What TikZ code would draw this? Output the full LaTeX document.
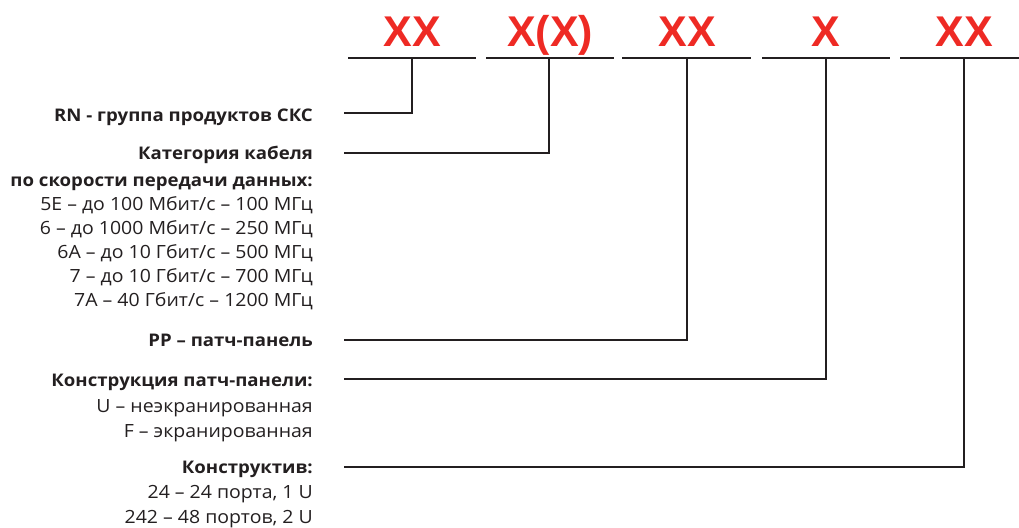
\documentclass[tikz,border=0pt]{standalone}
\usepackage{fontspec}
\setmainfont[FakeStretch=1.07]{Open Sans}
\newfontfamily\codefont{Liberation Sans}
\definecolor{codered}{HTML}{EE2A24}
\definecolor{linegray}{HTML}{231F20}
\definecolor{txt}{HTML}{231F20}
\begin{document}
\begin{tikzpicture}[x=1pt,y=-1pt,
  lbl/.style={anchor=base east,inner sep=0pt,text=txt,font=\fontsize{18.2}{22}\selectfont},
  lblb/.style={lbl,font=\fontsize{17.4}{22}\selectfont\bfseries},
  code/.style={anchor=base,inner sep=0pt,text=codered,font=\codefont\fontsize{43}{43}\selectfont\bfseries},
  rule/.style={draw=linegray,line width=2.4pt},
  conn/.style={draw=linegray,line width=2.4pt}]
\useasboundingbox (0,0) rectangle (1019,527);
% codes
\node[code] (c1) at (412,47) {XX};
\node[code] (c2) at (550,47) {X(X)};
\node[code] (c3) at (687,47) {XX};
\node[code] (c4) at (826,47) {X};
\node[code] (c5) at (964,47) {XX};
% top rules
\coordinate (r1a) at (348,58); \coordinate (r1b) at (476,58);
\coordinate (r2a) at (486,58); \coordinate (r2b) at (614,58);
\coordinate (r3a) at (622,58); \coordinate (r3b) at (751,58);
\coordinate (r4a) at (762,58); \coordinate (r4b) at (890,58);
\coordinate (r5a) at (900,58); \coordinate (r5b) at (1019,58);
\draw[rule] (r1a) -- (r1b);
\draw[rule] (r2a) -- (r2b);
\draw[rule] (r3a) -- (r3b);
\draw[rule] (r4a) -- (r4b);
\draw[rule] (r5a) -- (r5b);
\coordinate (t1) at (412,58);
\coordinate (t2) at (549,58);
\coordinate (t3) at (687,58);
\coordinate (t4) at (826,58);
\coordinate (t5) at (964,58);
% connector starts
\coordinate (s1) at (344,113);
\coordinate (s2) at (344,153);
\coordinate (s3) at (344,340);
\coordinate (s4) at (344,379);
\coordinate (s5) at (344,467);
\draw[conn] (s1) -| (t1);
\draw[conn] (s2) -| (t2);
\draw[conn] (s3) -| (t3);
\draw[conn] (s4) -| (t4);
\draw[conn] (s5) -| (t5);
% labels
\node[lblb] (a1) at (313,121) {RN - группа продуктов СКС};
\node[lblb] (a2) at (313,159) {Категория кабеля};
\node[lblb] (a3) at (313,186) {по скорости передачи данных:};
\node[lbl] (a4) at (313,210) {5E – до 100 Мбит/с – 100 МГц};
\node[lbl] (a5) at (313,234) {6 – до 1000 Мбит/с – 250 МГц};
\node[lbl] (a6) at (313,258) {6A – до 10 Гбит/с – 500 МГц};
\node[lbl] (a7) at (313,282) {7 – до 10 Гбит/с – 700 МГц};
\node[lbl] (a8) at (313,306) {7A – 40 Гбит/с – 1200 МГц};
\node[lblb] (b1) at (313,346) {PP – патч-панель};
\node[lblb] (b2) at (313,386) {Конструкция патч-панели:};
\node[lbl] (b3) at (313,412) {U – неэкранированная};
\node[lbl] (b4) at (313,437) {F – экранированная};
\node[lblb] (d1) at (313,473) {Конструктив:};
\node[lbl] (d2) at (313,498) {24 – 24 порта, 1 U};
\node[lbl] (d3) at (313,523) {242 – 48 портов, 2 U};
\end{tikzpicture}
\end{document}
